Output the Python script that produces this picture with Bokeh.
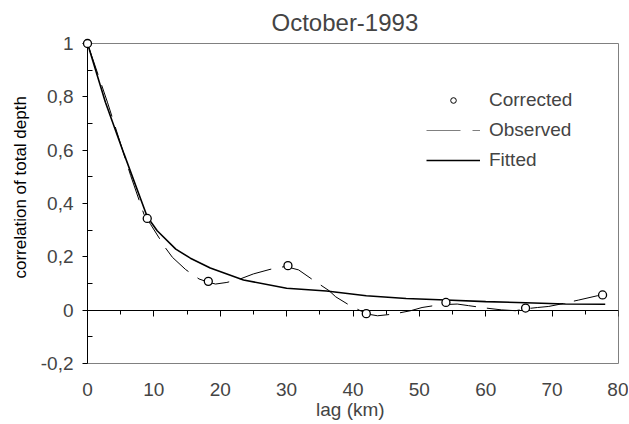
import math
from bokeh.plotting import figure
from bokeh.models import (Range1d, LinearAxis, FixedTicker, Title, Legend, LegendItem)
from bokeh.embed import file_html
from bokeh.resources import INLINE

# ---- data ----
title_text = "October-1993"
x_label = "lag  (km)"
y_label = "correlation of total depth"

corr_lag = [0.0, 9.0, 18.2, 30.2, 42.0, 54.0, 66.0, 77.6]
corr_val = [1.0, 0.344, 0.108, 0.167, -0.013, 0.029, 0.008, 0.057]

obs_lag = [0.0, 3.0, 6.5, 8.5, 9.5, 11.7, 12.8, 14.8, 16.8, 18.3, 19.3, 21.0, 23.0,
           25.0, 27.5, 29.8, 31.8, 34.0, 36.4, 37.4, 39.5, 41.1, 42.5, 43.7, 46.0,
           48.7, 50.4, 53.0, 55.7, 57.4, 60.0, 62.4, 64.5, 66.0, 67.8, 69.5, 71.3,
           74.0, 76.8, 77.6]
obs_val = [1.0, 0.78, 0.505, 0.36, 0.322, 0.235, 0.198, 0.152, 0.117, 0.104, 0.098,
           0.104, 0.117, 0.136, 0.153, 0.164, 0.151, 0.113, 0.073, 0.05, 0.018,
           -0.002, -0.016, -0.021, -0.015, -0.002, 0.010, 0.020, 0.023, 0.017,
           0.008, 0.001, -0.002, 0.005, 0.010, 0.014, 0.023, 0.038, 0.054, 0.057]

fit_lag = [0.0, 2.7, 5.5, 9.0, 10.5, 13.3, 15.5, 18.5, 23.5, 30.0, 36.0, 42.0, 48.0,
           54.0, 60.0, 66.0, 72.0, 78.0]
fit_val = [1.0, 0.78, 0.586, 0.35, 0.298, 0.229, 0.195, 0.158, 0.113, 0.082, 0.072,
           0.054, 0.044, 0.038, 0.032, 0.028, 0.023, 0.022]

x_ticks = [0, 10, 20, 30, 40, 50, 60, 70, 80]
x_minor = [5, 15, 25, 35, 45, 55, 65, 75]
y_ticks = [-0.2, 0.0, 0.2, 0.4, 0.6, 0.8, 1.0]
y_tick_labels = ["-0,2", "0", "0,2", "0,4", "0,6", "0,8", "1"]
y_minor = [-0.1, 0.1, 0.3, 0.5, 0.7, 0.9]

FONT = "Liberation Sans"
NAN = float("nan")

p = figure(frame_width=531, frame_height=320,
           x_range=Range1d(0, 80), y_range=Range1d(-0.2, 1.0),
           output_backend="svg", toolbar_location=None,
           min_border_left=87, min_border_right=10,
           min_border_top=43, min_border_bottom=56)
p.background_fill_color = "white"
p.border_fill_color = "white"
p.outline_line_color = "#808080"
p.outline_line_width = 1
p.xgrid.visible = False
p.ygrid.visible = False

p.title.text = title_text
p.title.text_font = FONT
p.title.text_font_size = "24px"
p.title.text_font_style = "normal"
p.title.align = "left"
p.title.vertical_align = "middle"
p.title.offset = 184
p.title.standoff = 13

# bottom axis: labels only
xa = p.xaxis[0]
xa.ticker = FixedTicker(ticks=x_ticks)
xa.axis_line_color = None
xa.major_tick_line_color = None
xa.minor_tick_line_color = None
xa.major_tick_out = 0
xa.major_tick_in = 0
xa.major_label_standoff = 19
xa.major_label_text_font = FONT
xa.major_label_text_font_size = "19px"
xa.axis_label = x_label
xa.axis_label_text_font = FONT
xa.axis_label_text_font_size = "19px"
xa.axis_label_text_font_style = "normal"
xa.axis_label_standoff = 0

# axis line at y = 0 with ticks
zero_axis = LinearAxis(fixed_location=0,
                       ticker=FixedTicker(ticks=x_ticks, minor_ticks=x_minor),
                       axis_line_color="black", axis_line_width=1,
                       major_tick_out=6, major_tick_in=0,
                       minor_tick_out=4, minor_tick_in=0,
                       major_tick_line_color="black", minor_tick_line_color="black",
                       major_label_text_color=None, major_label_text_font_size="1px")
p.add_layout(zero_axis, "below")

# left axis
ya = p.yaxis[0]
ya.ticker = FixedTicker(ticks=y_ticks, minor_ticks=y_minor)
ya.major_label_overrides = {t: s for t, s in zip(y_ticks, y_tick_labels)}
ya.axis_line_color = "black"
ya.major_tick_out = 5
ya.major_tick_in = 0
ya.minor_tick_in = 5
ya.minor_tick_out = 0
ya.major_label_standoff = 9
ya.major_label_text_font = FONT
ya.major_label_text_font_size = "19px"

# y axis title
p.add_layout(Title(text=y_label, align="left", offset=85, text_font=FONT,
                   text_font_size="17px", text_font_style="normal",
                   text_color="black", standoff=15), "left")

# data
p.line(fit_lag, fit_val, line_color="black", line_width=1.6)
p.line(obs_lag, obs_val, line_color="black", line_width=1, line_dash="33 11")
p.scatter(corr_lag, corr_val, marker="circle", size=8, fill_color="white",
          line_color="black", line_width=1.3, level="overlay")

# legend proxies (not drawn in the plot area)
leg_c = p.scatter([NAN], [NAN], marker="circle", size=5, fill_color="white",
                  line_color="black", line_width=1)
leg_o = p.line([NAN, NAN], [NAN, NAN], line_color="#808080", line_width=1,
               line_dash="34 12")
leg_f = p.line([NAN, NAN], [NAN, NAN], line_color="black", line_width=1.5)

legend = Legend(items=[LegendItem(label="Corrected", renderers=[leg_c]),
                       LegendItem(label="Observed", renderers=[leg_o]),
                       LegendItem(label="Fitted", renderers=[leg_f])],
                location=(339, 192), glyph_width=54, glyph_height=14,
                label_height=14, spacing=8, padding=0, margin=0,
                label_standoff=9, border_line_color=None,
                background_fill_alpha=0, label_text_font=FONT,
                label_text_font_size="19px")
p.add_layout(legend)

open("out.html", "w").write(file_html(p, INLINE))
